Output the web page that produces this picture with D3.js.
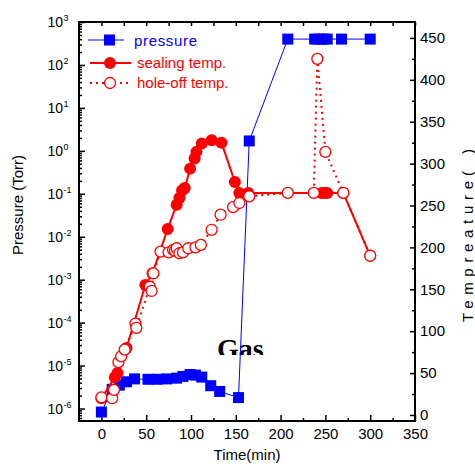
<!DOCTYPE html>
<html>
<head>
<meta charset="utf-8">
<script src="https://cdn.jsdelivr.net/npm/d3@7"></script>
<style>
  body { margin: 0; background: #fff; }
  text { font-family: "Liberation Sans", Arial, sans-serif; }
</style>
</head>
<body>
<div id="canvas"></div>
<script>
// data
const pressTime = [0, 12, 20, 28, 37, 52, 62, 73, 84, 91, 99, 105, 112, 122, 132, 153, 165, 208, 238, 243, 248, 252, 268, 300];
const pressTorr = [8.3e-7, 2.8e-6, 3.5e-6, 4.2e-6, 4.9e-6, 4.8e-6, 4.8e-6, 4.9e-6, 5.1e-6, 5.6e-6, 6.2e-6, 6.0e-6, 5.4e-6, 3.4e-6, 2.5e-6, 1.8e-6, 1.7, 400, 400, 400, 400, 400, 400, 400];

const sealTime = [0, 15, 18, 28, 49, 57, 74, 84, 87, 90, 93, 99, 104, 106, 112, 123, 134, 149, 154, 164, 246, 249, 252, 270, 300];
const sealTemp = [20, 45, 50, 80, 155, 169, 222, 251, 259, 268, 271, 294, 306, 314, 324, 328, 325, 278, 265, 265, 265, 265, 265, 265, 190];

const holeTime = [0, 12, 14, 19, 22, 26, 38, 39, 54, 56, 58, 66, 75, 80, 82, 84, 87, 91, 97, 105, 111, 123, 133, 147, 154, 165, 208, 237, 241, 250, 270, 300];
const holeTemp = [21, 20, 30, 63, 70, 78, 109, 104, 153, 148, 169, 195, 194, 197, 196, 199, 193, 194, 199, 200, 203, 221, 239, 248, 253, 261, 265, 265, 425, 314, 265, 190];

const xTicks = [0, 50, 100, 150, 200, 250, 300, 350];
const xMinor = [25, 75, 125, 175, 225, 275, 325];
const pExps = [-6, -5, -4, -3, -2, -1, 0, 1, 2, 3];
const tTicks = [0, 50, 100, 150, 200, 250, 300, 350, 400, 450];
const tMinor = [25, 75, 125, 175, 225, 275, 325, 375, 425];

const W = 475, H = 464;
const L = 79, R = 415, T = 22, B = 421;
const blue = "#0000ff", red = "#ff0000";

let svg = d3.select("#canvas")
            .append("svg")
                .attr("width", W)
                .attr("height", H);

let x = d3.scaleLinear().domain([-25, 350]).range([L, R]);
let yP = d3.scaleLog().domain([Math.pow(10, -6.29), 1000]).range([B, T]);
let yT = d3.scaleLinear().domain([-7.2, 469]).range([B, T]);

// "Gas" label, cut at the bottom like the source
svg.append("clipPath").attr("id", "gasclip")
    .append("rect").attr("x", 200).attr("y", 320).attr("width", 100).attr("height", 35);
svg.append("text")
    .attr("x", 217).attr("y", 358)
    .attr("clip-path", "url(#gasclip)")
    .style("font-family", "'Liberation Serif', 'Times New Roman', serif")
    .style("font-weight", "bold")
    .style("font-size", "28px")
    .text("Gas");

// axes
function styleAxis(g) {
    g.select(".domain").remove();
    g.selectAll("line").attr("stroke", "#000").attr("stroke-width", 1.5);
    g.selectAll("text").attr("fill", "#000").style("font-size", "15px")
        .style("font-family", "'Liberation Sans', Arial, sans-serif");
}

svg.append("g").attr("transform", "translate(0," + B + ")")
    .call(d3.axisBottom(x).tickValues(xTicks).tickSize(-6).tickPadding(7))
    .call(styleAxis);
svg.append("g").attr("transform", "translate(0," + B + ")")
    .call(d3.axisBottom(x).tickValues(xMinor).tickSize(-3).tickFormat(""))
    .call(styleAxis);
svg.append("g").attr("transform", "translate(0," + T + ")")
    .call(d3.axisTop(x).tickValues(xTicks.concat(xMinor)).tickSize(-4).tickFormat(""))
    .call(styleAxis);

svg.append("g").attr("transform", "translate(" + R + ",0)")
    .call(d3.axisRight(yT).tickValues(tTicks).tickSize(-5).tickPadding(5))
    .call(styleAxis);
svg.append("g").attr("transform", "translate(" + R + ",0)")
    .call(d3.axisRight(yT).tickValues(tMinor).tickSize(-3).tickFormat(""))
    .call(styleAxis);

let minorP = [];
pExps.forEach(e => { for (let k = 2; k < 10; k++) { if (e < 3) minorP.push(k * Math.pow(10, e)); } });
for (let k = 6; k < 10; k++) minorP.push(k * 1e-7);
svg.append("g").attr("transform", "translate(" + L + ",0)")
    .call(d3.axisLeft(yP).tickValues(pExps.map(e => Math.pow(10, e))).tickSize(-6).tickFormat(""))
    .call(styleAxis);
svg.append("g").attr("transform", "translate(" + L + ",0)")
    .call(d3.axisLeft(yP).tickValues(minorP).tickSize(-3).tickFormat(""))
    .call(styleAxis);

let pl = svg.append("g").selectAll("g").data(pExps).enter().append("g");
pl.append("text")
    .attr("x", 63).attr("y", d => yP(Math.pow(10, d)) + 5)
    .attr("text-anchor", "end").style("font-size", "14px")
    .text("10");
pl.append("text")
    .attr("x", 63.5).attr("y", d => yP(Math.pow(10, d)) - 1)
    .style("font-size", "9px")
    .text(d => d);

// frame
svg.append("rect")
    .attr("x", L).attr("y", T).attr("width", R - L).attr("height", B - T)
    .attr("fill", "none").attr("stroke", "#000").attr("stroke-width", 2);

// axis titles
svg.append("text")
    .attr("transform", "translate(247,460)")
    .attr("text-anchor", "middle").style("font-size", "15px")
    .text("Time(min)");
svg.append("text")
    .attr("transform", "translate(23,205) rotate(-90)")
    .attr("text-anchor", "middle").style("font-size", "15px")
    .text("Pressure (Torr)");
svg.append("text")
    .attr("transform", "translate(473,322) rotate(-90)")
    .attr("textLength", 141).attr("lengthAdjust", "spacing")
    .style("font-size", "15px")
    .text("Tempreature");
svg.append("text")
    .attr("transform", "translate(473,176) rotate(-90)")
    .style("font-size", "15px")
    .text("(");
svg.append("text")
    .attr("transform", "translate(473,154) rotate(-90)")
    .style("font-size", "15px")
    .text(")");

// pressure
let pData = pressTime.map((t, i) => ({ t: t, v: pressTorr[i] }));
svg.append("path").datum(pData)
    .attr("fill", "none").attr("stroke", blue).attr("stroke-width", 1)
    .attr("d", d3.line().x(d => x(d.t)).y(d => yP(d.v)));
svg.append("g").selectAll("rect").data(pData).enter().append("rect")
    .attr("x", d => x(d.t) - 5.5).attr("y", d => yP(d.v) - 5.5)
    .attr("width", 11).attr("height", 11).attr("fill", blue);

// sealing temp
let sData = sealTime.map((t, i) => ({ t: t, v: sealTemp[i] }));
svg.append("path").datum(sData)
    .attr("fill", "none").attr("stroke", red).attr("stroke-width", 2)
    .attr("d", d3.line().x(d => x(d.t)).y(d => yT(d.v)));
svg.append("g").selectAll("circle").data(sData).enter().append("circle")
    .attr("cx", d => x(d.t)).attr("cy", d => yT(d.v)).attr("r", 6)
    .attr("fill", red);

// hole-off temp
let hData = holeTime.map((t, i) => ({ t: t, v: holeTemp[i] }));
svg.append("path").datum(hData)
    .attr("fill", "none").attr("stroke", red).attr("stroke-width", 2)
    .attr("stroke-dasharray", "2,4")
    .attr("d", d3.line().x(d => x(d.t)).y(d => yT(d.v)));
svg.append("g").selectAll("circle").data(hData).enter().append("circle")
    .attr("cx", d => x(d.t)).attr("cy", d => yT(d.v)).attr("r", 5.5)
    .attr("fill", "#fff").attr("stroke", red).attr("stroke-width", 1.3);

// legend
let lg = svg.append("g");
lg.append("line").attr("x1", 88).attr("x2", 124).attr("y1", 40).attr("y2", 40)
    .attr("stroke", blue).attr("stroke-width", 1);
lg.append("rect").attr("x", 104).attr("y", 34.5).attr("width", 11).attr("height", 11).attr("fill", blue);
lg.append("text").attr("x", 134).attr("y", 46).attr("fill", blue).style("font-size", "15px")
    .attr("textLength", 63).text("pressure");

lg.append("line").attr("x1", 90).attr("x2", 131).attr("y1", 63).attr("y2", 63)
    .attr("stroke", red).attr("stroke-width", 2);
lg.append("circle").attr("cx", 110).attr("cy", 63).attr("r", 6).attr("fill", red);
lg.append("text").attr("x", 137).attr("y", 68).attr("fill", red).style("font-size", "15px")
    .text("sealing temp.");

lg.append("line").attr("x1", 90).attr("x2", 131).attr("y1", 83).attr("y2", 83)
    .attr("stroke", red).attr("stroke-width", 2).attr("stroke-dasharray", "2,4");
lg.append("circle").attr("cx", 110).attr("cy", 83).attr("r", 5.5)
    .attr("fill", "#fff").attr("stroke", red).attr("stroke-width", 1.3);
lg.append("text").attr("x", 137).attr("y", 88).attr("fill", red).style("font-size", "15px")
    .text("hole-off temp.");
</script>
</body>
</html>
